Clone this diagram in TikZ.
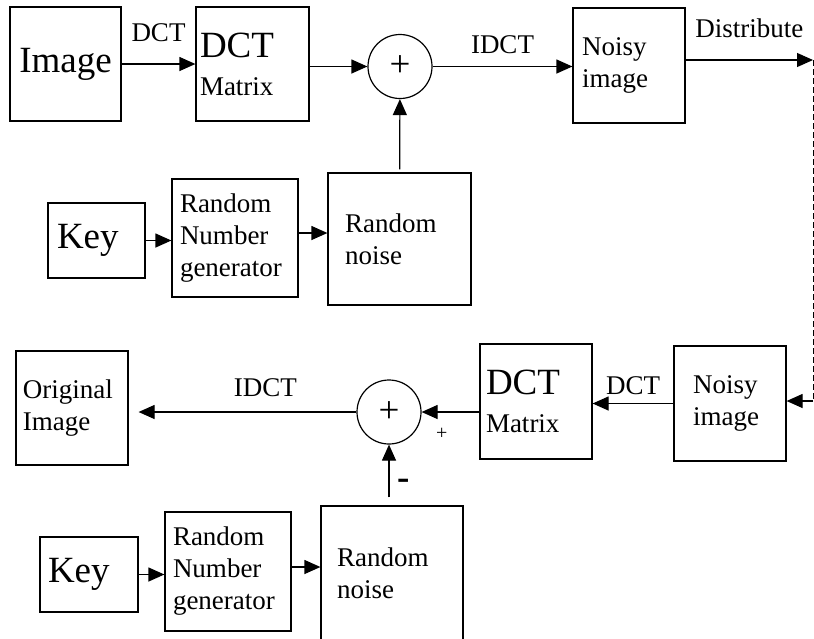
\documentclass[tikz,border=0pt]{standalone}
\usepackage{fontspec}
\setmainfont{Liberation Serif}
\usetikzlibrary{arrows.meta}

\newcommand{\bigtext}{\fontsize{37}{40}\selectfont}
\newcommand{\midtext}{\fontsize{27}{32}\selectfont}
\newcommand{\smalltext}{\fontsize{20}{22}\selectfont}

\begin{document}
\begin{tikzpicture} [
        x=1pt, y=-1pt,
        block/.style={rectangle, draw, line width=1.2pt, inner ysep=0pt, align=left, font=\midtext},
        summer/.style={circle, draw, line width=1.2pt, minimum size=64pt, inner sep=0pt, font=\bigtext},
        lbl/.style={font=\midtext, inner sep=2pt},
        line/.style={draw, line width=1.2pt, -{Triangle[length=16pt, width=14pt]}}
    ]
        \useasboundingbox (0,0) rectangle (814,638);
        \clip (0,0) rectangle (814,638);

        % Nodes (sender)
        \node[block, text width=111pt, inner xsep=0pt, align=center, minimum height=114pt, font=\bigtext] (img) at (65.5,64) {Image};
        \node[block, text width=105pt, inner xsep=4pt, minimum height=114pt] (dct1) at (252.5,64) {{\bigtext DCT}\\[6pt]Matrix};
        \node[summer] (sum1) at (400,66.5) {+};
        \node[block, text width=94pt, inner xsep=9pt, minimum height=115pt] (noisy1) at (629,65.5) {Noisy\\image};

        \node[block, text width=79pt, inner xsep=9pt, minimum height=75pt, font=\bigtext] (key1) at (96.5,240.5) {Key};
        \node[block, text width=110pt, inner xsep=8pt, minimum height=118pt] (rng1) at (235,238) {Random\\Number\\generator};
        \node[block, text width=109pt, inner xsep=17pt, minimum height=132pt] (noise1) at (399.5,239) {Random\\noise};

        \coordinate (dist) at (813,60);
        \coordinate (ret) at (813,401);

        % Nodes (receiver)
        \node[block, text width=74pt, inner xsep=19pt, minimum height=115pt] (noisy2) at (730,403.5) {Noisy\\image};
        \node[block, text width=100pt, inner xsep=6pt, minimum height=115pt] (dct2) at (536,401.5) {{\bigtext DCT}\\[6pt]Matrix};
        \node[summer] (sum2) at (389,412) {+};
        \node[block, text width=98pt, inner xsep=7pt, minimum height=114pt] (orig) at (72,408) {Original\\Image};

        \node[block, text width=82pt, inner xsep=8pt, minimum height=75pt, font=\bigtext] (key2) at (89,574.5) {Key};
        \node[block, text width=110pt, inner xsep=8pt, minimum height=119pt] (rng2) at (228,571.5) {Random\\Number\\generator};
        \node[block, text width=110pt, inner xsep=16pt, minimum height=134pt] (noise2) at (392,573) {Random\\noise};

        % Paths (sender)
        \path [line] (img) -- (dct1) node[lbl, midway, above=20pt] {DCT};
        \path [line] (dct1.east |- sum1) -- (sum1);
        \path [line] (sum1) -- (sum1 -| noisy1.west) node[lbl, midway, above=10pt] {IDCT};
        \path [line] (noisy1.east |- dist) -- (dist) node[lbl, midway, above=20pt] {Distribute};
        \path [line, shorten <=3pt] (noise1) -- (sum1);
        \path [line] (key1) -- (key1 -| rng1.west);
        \path [line] ([yshift=5pt]rng1.east) -- ([yshift=5pt]rng1.east -| noise1.west);

        \draw [dashed, line width=0.8pt, dash pattern=on 6pt off 3pt] (dist) -- (ret);

        % Paths (receiver)
        \path [line] (ret) -- (ret -| noisy2.east);
        \path [line] (noisy2) -- (noisy2 -| dct2.east) node[lbl, midway, above=6pt] {DCT};
        \path [line] (dct2.west |- sum2) -- (sum2) node[lbl, pos=0.65, below=14pt, font=\smalltext] {+};
        \path [line, shorten >=10pt] (sum2) -- (sum2 -| orig.east) node[lbl, pos=0.4, above=13pt] {IDCT};
        \path [line, shorten <=8pt] (noise2.north -| sum2) -- (sum2) node[lbl, pos=0.34, right=6pt, font=\bigtext\bfseries] {-};
        \path [line] (key2) -- (key2 -| rng2.west);
        \path [line] ([yshift=4.5pt]rng2.east) -- ([yshift=4.5pt]rng2.east -| noise2.west);
    \end{tikzpicture}
\end{document}
